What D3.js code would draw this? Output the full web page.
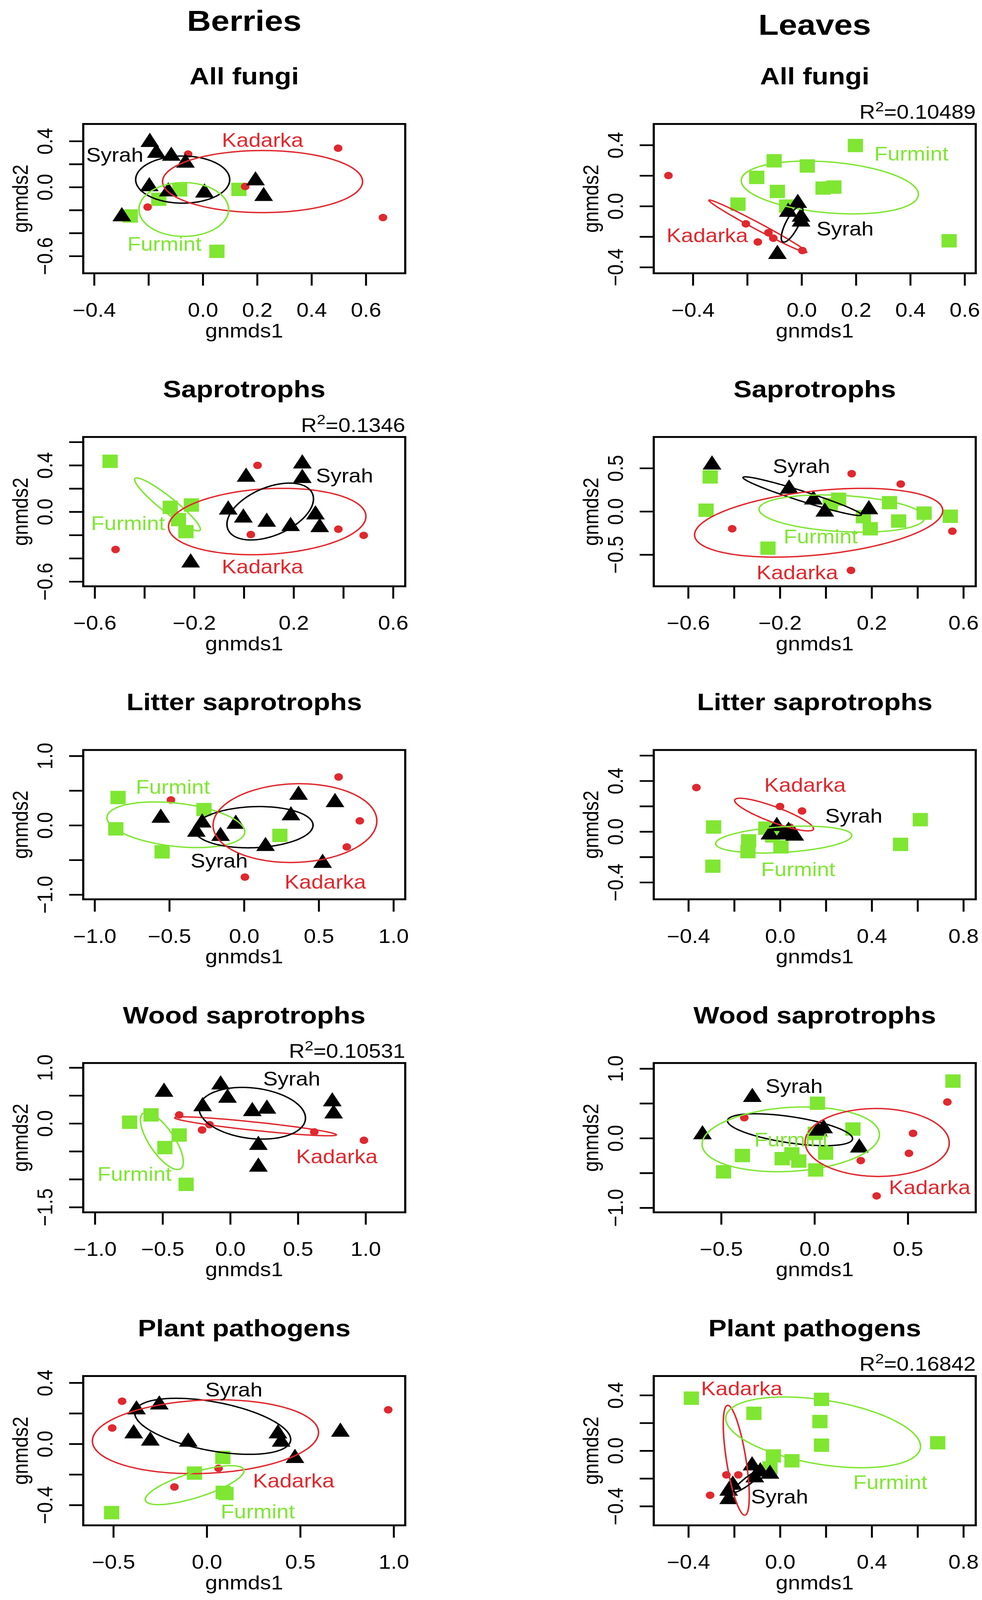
<!DOCTYPE html>
<html>
<head>
<meta charset="utf-8">
<script src="https://cdn.jsdelivr.net/npm/d3@7"></script>
<style>
  html, body { margin: 0; padding: 0; background: #fff; overflow: hidden; }
  svg { display: block; width: 100vw; height: 100vh; }
</style>
</head>
<body>
<script>
// panels are read row by row: Berries left, Leaves right
const columnHeaders = ["Berries", "Leaves"];
const panelTitles = ["All fungi", "All fungi", "Saprotrophs", "Saprotrophs",
    "Litter saprotrophs", "Litter saprotrophs", "Wood saprotrophs", "Wood saprotrophs",
    "Plant pathogens", "Plant pathogens"];
const r2Values = [null, "0.10489", "0.1346", null, null, null, "0.10531", null, null, "0.16842"];

const xDomains = [[-0.44, 0.745], [-0.544, 0.641], [-0.646, 0.649], [-0.75, 0.654], [-1.076, 1.079],
    [-0.551, 0.854], [-1.086, 1.293], [-0.861, 0.864], [-0.661, 1.062], [-0.551, 0.854]];
const yDomains = [[-0.75, 0.549], [-0.44, 0.538], [-0.641, 0.643], [-0.866, 0.86], [-1.068, 1.085],
    [-0.534, 0.643], [-1.593, 1.082], [-1.066, 1.08], [-0.533, 0.444], [-0.538, 0.538]];

const xTicks = [[-0.4, -0.2, 0, 0.2, 0.4, 0.6], [-0.4, -0.2, 0, 0.2, 0.4, 0.6],
    [-0.6, -0.4, -0.2, 0, 0.2, 0.4, 0.6], [-0.6, -0.4, -0.2, 0, 0.2, 0.4, 0.6],
    [-1, -0.5, 0, 0.5, 1], [-0.4, -0.2, 0, 0.2, 0.4, 0.6, 0.8],
    [-1, -0.5, 0, 0.5, 1], [-0.5, 0, 0.5], [-0.5, 0, 0.5, 1], [-0.4, -0.2, 0, 0.2, 0.4, 0.6, 0.8]];
const xTickLabels = [[-0.4, 0, 0.2, 0.4, 0.6], [-0.4, 0, 0.2, 0.4, 0.6], [-0.6, -0.2, 0.2, 0.6],
    [-0.6, -0.2, 0.2, 0.6], [-1, -0.5, 0, 0.5, 1], [-0.4, 0, 0.4, 0.8], [-1, -0.5, 0, 0.5, 1],
    [-0.5, 0, 0.5], [-0.5, 0, 0.5, 1], [-0.4, 0, 0.4, 0.8]];
const yTicks = [[-0.6, -0.4, -0.2, 0, 0.2, 0.4], [-0.4, -0.2, 0, 0.2, 0.4],
    [-0.6, -0.4, -0.2, 0, 0.2, 0.4, 0.6], [-0.5, 0, 0.5], [-1, -0.5, 0, 0.5, 1],
    [-0.4, -0.2, 0, 0.2, 0.4, 0.6], [-1.5, -1, -0.5, 0, 0.5, 1], [-1, -0.5, 0, 0.5, 1],
    [-0.4, -0.2, 0, 0.2, 0.4], [-0.4, -0.2, 0, 0.2, 0.4]];
const yTickLabels = [[-0.6, 0, 0.4], [-0.4, 0, 0.4], [-0.6, 0, 0.4], [-0.5, 0, 0.5], [-1, 0, 1],
    [-0.4, 0, 0.4], [-1.5, 0, 1], [-1, 0, 1], [-0.4, 0, 0.4], [-0.4, 0, 0.4]];

// sample scores (gnmds1, gnmds2) per panel
const furmintPoints = [
    [[0.133, -0.02], [-0.085, -0.025], [-0.162, -0.106], [-0.267, -0.251], [0.052, -0.559]],
    [[0.198, 0.397], [-0.101, 0.297], [0.021, 0.263], [-0.165, 0.188], [-0.089, 0.096], [0.079, 0.118],
        [0.119, 0.125], [-0.234, 0.013], [-0.055, 0.0], [0.543, -0.227]],
    [[-0.538, 0.434], [-0.296, 0.038], [-0.211, 0.058], [-0.263, -0.067], [-0.233, -0.171]],
    [[-0.504, 0.399], [-0.522, 0.014], [-0.252, -0.425], [0.056, 0.14], [0.02, 0.078], [0.164, -0.061],
        [0.194, -0.201], [0.278, 0.101], [0.318, -0.112], [0.429, -0.02], [0.543, -0.056]],
    [[-0.843, 0.4], [-0.858, -0.052], [-0.268, 0.226], [-0.548, -0.383], [0.24, -0.146]],
    [[-0.29, 0.036], [0.612, 0.094], [0.526, -0.101], [-0.293, -0.273], [-0.137, -0.073], [-0.14, -0.158],
        [-0.062, 0.027], [0.004, -0.12], [-0.032, -0.034]],
    [[-0.743, 0.022], [-0.585, 0.152], [-0.377, -0.208], [-0.483, -0.433], [-0.326, -1.091]],
    [[0.742, 0.82], [0.016, 0.502], [0.206, 0.131], [-0.386, -0.249], [-0.487, -0.484], [-0.173, -0.294],
        [-0.121, -0.225], [-0.084, -0.329], [0.007, -0.457], [0.06, -0.215], [0.004, 0.069]],
    [[0.086, -0.089], [-0.066, -0.191], [0.088, -0.317], [0.103, -0.325], [-0.509, -0.45]],
    [[-0.387, 0.378], [0.181, 0.37], [-0.114, 0.269], [0.174, 0.21], [0.181, 0.04], [0.688, 0.057],
        [0.052, -0.073], [-0.029, -0.038], [-0.044, -0.125]]
];
const kadarkaPoints = [
    [[0.498, 0.338], [-0.054, 0.287], [0.156, 0.005], [-0.203, -0.174], [0.663, -0.265]],
    [[-0.49, 0.2], [-0.205, -0.116], [-0.122, -0.174], [-0.104, -0.21], [-0.161, -0.235], [0.003, -0.291]],
    [[0.055, 0.399], [-0.516, -0.324], [0.028, -0.196], [0.38, -0.15], [0.482, -0.203]],
    [[0.113, 0.436], [0.327, 0.316], [-0.408, -0.201], [0.552, -0.229], [0.11, -0.682]],
    [[-0.489, 0.365], [0.633, 0.696], [0.775, 0.063], [0.688, -0.313], [0.006, -0.748]],
    [[-0.365, 0.347], [0.0, 0.198], [0.096, 0.162], [0.042, 0.036]],
    [[-0.377, 0.152], [-0.208, -0.117], [-0.153, -0.022], [0.621, -0.152], [0.988, -0.303]],
    [[-0.376, 0.294], [0.712, 0.519], [0.528, 0.069], [0.506, -0.218], [0.248, -0.322], [0.333, -0.83]],
    [[-0.453, 0.279], [-0.506, 0.104], [0.971, 0.223], [0.063, -0.16], [-0.173, -0.282]],
    [[-0.234, -0.174], [-0.182, -0.174], [-0.305, -0.321]]
];
const syrahPoints = [
    [[-0.195, 0.39], [-0.171, 0.296], [-0.116, 0.27], [-0.064, 0.21], [-0.197, 0.005], [-0.127, -0.04],
        [0.006, -0.05], [0.194, 0.056], [0.224, -0.08], [-0.298, -0.256]],
    [[-0.014, 0.019], [-0.049, -0.039], [-0.002, -0.071], [-0.002, -0.103], [-0.089, -0.315]],
    [[0.235, 0.413], [0.235, 0.288], [0.009, 0.299], [-0.063, 0.017], [-0.002, -0.052], [0.092, -0.088],
        [0.188, -0.125], [0.288, -0.025], [0.305, -0.134], [-0.214, -0.438]],
    [[-0.496, 0.539], [-0.16, 0.26], [-0.054, 0.134], [-0.004, -0.006], [0.188, 0.022]],
    [[-0.557, 0.104], [-0.28, 0.035], [-0.319, -0.097], [-0.157, -0.157], [-0.055, 0.017], [0.144, -0.303],
        [0.314, 0.139], [0.365, 0.435], [0.609, 0.33], [0.526, -0.546]],
    [[-0.014, 0.042], [-0.044, -0.025], [0.016, -0.025], [0.064, -0.034], [0.037, 0.004]],
    [[-0.489, 0.563], [-0.071, 0.693], [-0.02, 0.455], [-0.204, 0.303], [0.163, 0.216], [0.271, 0.26],
        [0.754, 0.39], [0.764, 0.173], [0.208, -0.39], [0.208, -0.779]],
    [[-0.333, 0.588], [-0.6, 0.052], [0.019, 0.104], [0.049, 0.138], [0.24, -0.138]],
    [[-0.376, 0.224], [-0.254, 0.256], [-0.391, 0.067], [-0.302, 0.02], [-0.099, 0.013], [0.381, 0.067],
        [0.398, 0.013], [0.472, -0.094], [0.715, 0.078]],
    [[-0.122, -0.108], [-0.086, -0.151], [-0.044, -0.168], [-0.11, -0.194], [-0.206, -0.247],
        [-0.224, -0.29], [-0.224, -0.351]]
];

// group ellipses: [group, centre x, centre y, ux, uy, vx, vy] (conjugate half-axes, data units)
const groupEllipses = [
    [["Syrah", -0.074, 0.065, 0.173, 0, 0, 0.205], ["Kadarka", 0.22, 0.048, 0.368, 0, 0, 0.27],
        ["Furmint", -0.07, -0.195, 0.165, 0, 0, 0.234]],
    [["Furmint", 0.104, 0.122, 0.326, -0.045, 0, 0.167], ["Kadarka", -0.161, -0.132, 0.18, -0.17, 0, 0.026],
        ["Syrah", -0.035, -0.118, 0.03, 0.118, 0.026, 0]],
    [["Furmint", -0.307, 0.063, 0.132, -0.213, 0, 0.081], ["Kadarka", 0.094, -0.084, 0.397, 0.044, 0, 0.282],
        ["Syrah", 0.106, 0.002, 0.174, 0.109, 0, 0.219]],
    [["Syrah", -0.103, 0.176, 0.258, -0.215, 0, 0.061], ["Furmint", 0.07, -0.025, 0.361, -0.05, 0, 0.209],
        ["Kadarka", -0.031, -0.131, 0.541, 0.14, 0, 0.372]],
    [["Furmint", -0.456, 0.007, 0.461, -0.101, 0, 0.313], ["Syrah", 0.065, -0.028, 0.397, 0.028, 0, 0.296],
        ["Kadarka", 0.341, 0.031, 0.548, 0.031, 0, 0.567]],
    [["Kadarka", -0.026, 0.134, 0.172, -0.111, 0, 0.065], ["Furmint", 0.016, -0.063, 0.297, 0.032, 0, 0.101],
        ["Syrah", 0.006, -0.015, 0.048, -0.01, 0, 0.038]],
    [["Furmint", -0.505, -0.316, -0.116, 0.511, 0.108, 0], ["Kadarka", 0.187, -0.052, 0.597, -0.152, 0, 0.075],
        ["Syrah", 0.163, 0.182, 0.393, -0.087, 0, 0.455]],
    [["Syrah", -0.131, 0.121, 0.335, -0.128, 0, 0.19], ["Furmint", -0.127, -0.017, 0.475, 0.069, 0, 0.46],
        ["Kadarka", 0.336, -0.062, 0.386, -0.007, 0, 0.488]],
    [["Syrah", 0.032, 0.115, 0.417, -0.086, 0, 0.162], ["Kadarka", -0.007, 0.047, 0.605, 0.028, 0, 0.24],
        ["Furmint", -0.065, -0.27, 0.264, 0.094, 0, 0.086]],
    [["Kadarka", -0.191, -0.069, -0.037, 0.396, 0.043, 0], ["Furmint", 0.188, 0.132, 0.425, -0.101, 0, 0.234],
        ["Syrah", -0.138, -0.215, 0.064, 0.082, 0.012, -0.019]]
];

// group name labels: [group, x, y]
const groupLabels = [
    [["Syrah", -0.324, 0.279], ["Kadarka", 0.22, 0.407], ["Furmint", -0.141, -0.496]],
    [["Furmint", 0.404, 0.342], ["Syrah", 0.16, -0.148], ["Kadarka", -0.347, -0.193]],
    [["Syrah", 0.405, 0.309], ["Furmint", -0.466, -0.098], ["Kadarka", 0.075, -0.474]],
    [["Syrah", -0.106, 0.52], ["Furmint", -0.022, -0.293], ["Kadarka", -0.124, -0.709]],
    [["Furmint", -0.476, 0.55], ["Syrah", -0.166, -0.515], ["Kadarka", 0.544, -0.817]],
    [["Kadarka", 0.109, 0.366], ["Syrah", 0.322, 0.124], ["Furmint", 0.079, -0.298]],
    [["Syrah", 0.454, 0.801], ["Kadarka", 0.788, -0.593], ["Furmint", -0.707, -0.909]],
    [["Syrah", -0.109, 0.744], ["Furmint", -0.124, -0.024], ["Kadarka", 0.617, -0.709]],
    [["Syrah", 0.145, 0.355], ["Kadarka", 0.465, -0.242], ["Furmint", 0.273, -0.442]],
    [["Kadarka", -0.167, 0.448], ["Furmint", 0.481, -0.229], ["Syrah", -0.002, -0.333]]
];

const colors = {Syrah: "#000000", Kadarka: "#E0282E", Furmint: "#7FE632"};
const FONT = "'Liberation Sans', Arial, Helvetica, sans-serif";

const W = 2513, H = 4672;
const boxLeft = [213, 1673], boxW = 824, boxH = 436;
const boxTop0 = 362, rowStep = 914;
const headerY = [90, 101];

const fmt = d3.format(".1f");
const hasLabel = (list, v) => list.some(l => Math.abs(l - v) < 1e-9);

// the figure is drawn in a 2513x4672 frame and stretched to fill the window
const svg = d3.select("body").append("svg")
    .attr("viewBox", `0 0 ${W} ${H}`)
    .attr("preserveAspectRatio", "none")
    .style("font-family", FONT);
svg.append("rect").attr("width", W).attr("height", H).attr("fill", "#fff");

columnHeaders.forEach((h, c) => {
    svg.append("text")
        .attr("x", boxLeft[c] + boxW / 2).attr("y", headerY[c])
        .attr("text-anchor", "middle").attr("font-weight", "bold").attr("font-size", 85)
        .text(h);
});

panelTitles.forEach((title, i) => {
    const col = i % 2, row = Math.floor(i / 2);
    const g = svg.append("g").attr("transform", `translate(${boxLeft[col]},${boxTop0 + row * rowStep})`);
    const x = d3.scaleLinear().domain(xDomains[i]).range([0, boxW]);
    const y = d3.scaleLinear().domain(yDomains[i]).range([boxH, 0]);

    g.append("text")
        .attr("x", boxW / 2).attr("y", -116)
        .attr("text-anchor", "middle").attr("font-weight", "bold").attr("font-size", 70)
        .text(title);

    if (r2Values[i]) {
        const t = g.append("text").attr("x", boxW).attr("y", -15)
            .attr("text-anchor", "end").attr("font-size", 56);
        t.append("tspan").text("R");
        t.append("tspan").attr("font-size", 40).attr("dy", -22).text("2");
        t.append("tspan").attr("dy", 22).text("=" + r2Values[i]);
    }

    const xa = g.append("g")
        .attr("transform", `translate(0,${boxH})`)
        .call(d3.axisBottom(x).tickValues(xTicks[i]).tickSize(36).tickSizeOuter(0)
            .tickFormat(v => hasLabel(xTickLabels[i], v) ? fmt(v) : ""));
    xa.attr("font-size", 56).attr("font-family", FONT);
    xa.select(".domain").remove();
    xa.selectAll(".tick line").attr("stroke", "#000").attr("stroke-width", 5);
    xa.selectAll(".tick text").attr("y", 127).attr("dy", null).attr("fill", "#000");

    const ya = g.append("g")
        .call(d3.axisLeft(y).tickValues(yTicks[i]).tickSize(36).tickSizeOuter(0)
            .tickFormat(v => hasLabel(yTickLabels[i], v) ? fmt(v) : ""));
    ya.attr("font-size", 56).attr("font-family", FONT);
    ya.select(".domain").remove();
    ya.selectAll(".tick line").attr("stroke", "#000").attr("stroke-width", 5);
    ya.selectAll(".tick text")
        .attr("transform", "rotate(-90)")
        .attr("x", 0).attr("y", -79).attr("dy", null)
        .attr("text-anchor", "middle").attr("fill", "#000");

    g.append("text")
        .attr("x", boxW / 2).attr("y", boxH + 187)
        .attr("text-anchor", "middle").attr("font-size", 56)
        .text("gnmds1");
    g.append("text")
        .attr("transform", `translate(-142,${boxH / 2}) rotate(-90)`)
        .attr("text-anchor", "middle").attr("font-size", 56)
        .text("gnmds2");

    const clipId = "clip" + i;
    g.append("clipPath").attr("id", clipId)
        .append("rect").attr("width", boxW).attr("height", boxH);
    const plot = g.append("g").attr("clip-path", `url(#${clipId})`);

    plot.append("g").selectAll("path")
        .data(furmintPoints[i]).join("path")
        .attr("transform", d => `translate(${x(d[0])},${y(d[1])})`)
        .attr("d", d3.symbol(d3.symbolSquare, 39 * 39))
        .attr("fill", colors.Furmint);
    plot.append("g").selectAll("path")
        .data(kadarkaPoints[i]).join("path")
        .attr("transform", d => `translate(${x(d[0])},${y(d[1])})`)
        .attr("d", d3.symbol(d3.symbolCircle, Math.PI * 11 * 11))
        .attr("fill", colors.Kadarka);
    // filled equilateral triangles (R pch 17), side about 48
    plot.append("g").selectAll("path")
        .data(syrahPoints[i]).join("path")
        .attr("transform", d => `translate(${x(d[0])},${y(d[1])})`)
        .attr("d", d3.symbol(d3.symbolTriangle, 48 * 48 * Math.sqrt(3) / 4))
        .attr("fill", colors.Syrah);

    const angles = d3.range(0, 2 * Math.PI, Math.PI / 90);
    plot.append("g").selectAll("path")
        .data(groupEllipses[i]).join("path")
        .attr("d", e => d3.line()
            .x(t => x(e[1] + e[3] * Math.cos(t) + e[5] * Math.sin(t)))
            .y(t => y(e[2] + e[4] * Math.cos(t) + e[6] * Math.sin(t)))
            .curve(d3.curveLinearClosed)(angles))
        .attr("fill", "none")
        .attr("stroke", e => colors[e[0]])
        .attr("stroke-width", 4);

    g.append("g").selectAll("text")
        .data(groupLabels[i]).join("text")
        .attr("x", d => x(d[1])).attr("y", d => y(d[2]))
        .attr("text-anchor", "middle").attr("dominant-baseline", "central")
        .attr("font-size", 56)
        .attr("fill", d => colors[d[0]])
        .text(d => d[0]);

    g.append("rect")
        .attr("width", boxW).attr("height", boxH)
        .attr("fill", "none").attr("stroke", "#000").attr("stroke-width", 5.5);
});
</script>
</body>
</html>
